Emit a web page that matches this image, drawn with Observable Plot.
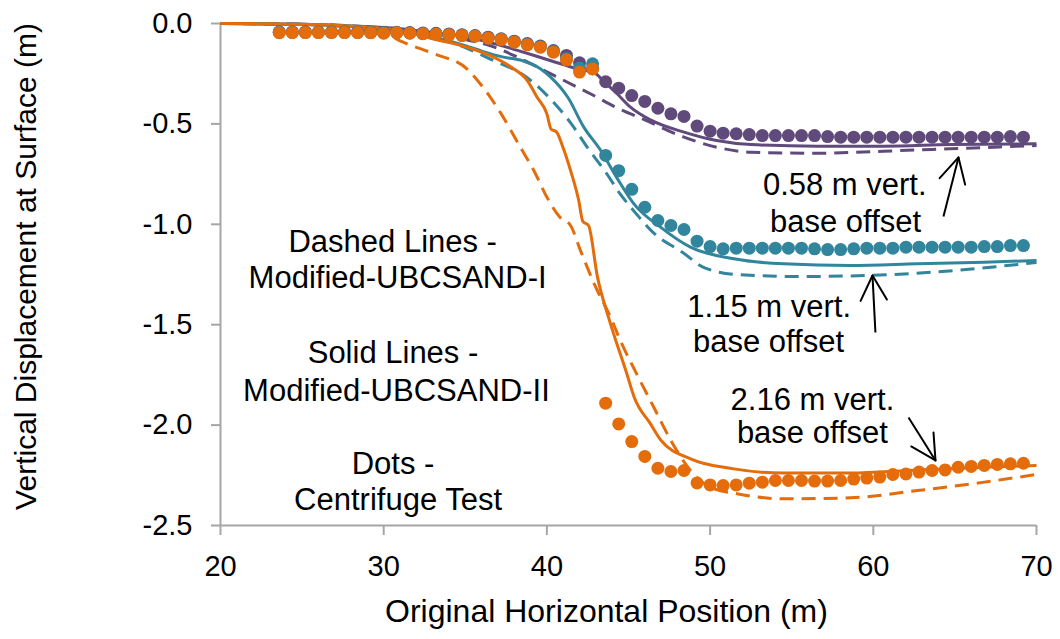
<!DOCTYPE html>
<html>
<head>
<meta charset="utf-8">
<script src="https://cdn.jsdelivr.net/npm/d3@7"></script>
<script src="https://cdn.jsdelivr.net/npm/@observablehq/plot@0.6"></script>
<style>
html, body { margin: 0; padding: 0; background: #ffffff; }
#chart { width: 1060px; height: 639px; }
</style>
</head>
<body>
<div id="chart"></div>
<script>
// ---------- Data ----------
const xTicks = [20, 30, 40, 50, 60, 70];
const yTicks = [0, -0.5, -1.0, -1.5, -2.0, -2.5];

// Centrifuge test dot positions (m)
const dotX = [23.6, 24.4, 25.2, 26.0, 26.8, 27.6, 28.4, 29.2, 30.0, 30.8,
  31.6, 32.4, 33.2, 34.0, 34.8, 35.6, 36.4, 37.2, 38.0, 38.8,
  39.6, 40.4, 41.2, 42.0, 42.8, 43.6, 44.4, 45.2, 46.0, 46.8,
  47.6, 48.4, 49.2, 50.0, 50.8, 51.6, 52.4, 53.2, 54.0, 54.8,
  55.6, 56.4, 57.2, 58.0, 58.8, 59.6, 60.4, 61.2, 62.0, 62.8,
  63.6, 64.4, 65.2, 66.0, 66.8, 67.6, 68.4, 69.2];

const purpleDotY = [-0.042, -0.042, -0.042, -0.042, -0.042, -0.042, -0.042, -0.043, -0.044, -0.044,
  -0.045, -0.047, -0.049, -0.052, -0.056, -0.060, -0.068, -0.076, -0.088, -0.100,
  -0.112, -0.135, -0.159, -0.196, -0.225, -0.290, -0.322, -0.359, -0.388, -0.422,
  -0.450, -0.463, -0.511, -0.536, -0.546, -0.549, -0.553, -0.558, -0.558, -0.558,
  -0.558, -0.558, -0.563, -0.566, -0.566, -0.566, -0.566, -0.566, -0.566, -0.566,
  -0.566, -0.566, -0.566, -0.566, -0.566, -0.566, -0.563, -0.566];

const tealDotY = [-0.044, -0.044, -0.044, -0.044, -0.044, -0.044, -0.044, -0.045, -0.046, -0.045,
  -0.047, -0.050, -0.052, -0.055, -0.059, -0.062, -0.071, -0.078, -0.091, -0.104,
  -0.116, -0.140, -0.175, -0.221, -0.201, -0.657, -0.733, -0.826, -0.915, -0.981,
  -1.006, -1.026, -1.084, -1.111, -1.122, -1.119, -1.119, -1.119, -1.119, -1.119,
  -1.119, -1.122, -1.126, -1.126, -1.122, -1.119, -1.119, -1.119, -1.114, -1.114,
  -1.114, -1.114, -1.114, -1.114, -1.111, -1.111, -1.106, -1.106];

const orangeDotY = [-0.046, -0.045, -0.045, -0.045, -0.045, -0.045, -0.045, -0.046, -0.048, -0.046,
  -0.048, -0.051, -0.053, -0.056, -0.060, -0.063, -0.073, -0.080, -0.093, -0.106,
  -0.118, -0.143, -0.181, -0.242, -0.226, -1.891, -1.994, -2.082, -2.156, -2.215,
  -2.231, -2.226, -2.288, -2.298, -2.301, -2.298, -2.289, -2.284, -2.276, -2.276,
  -2.276, -2.279, -2.279, -2.276, -2.269, -2.264, -2.259, -2.246, -2.243, -2.234,
  -2.226, -2.223, -2.210, -2.206, -2.201, -2.196, -2.193, -2.190];

// Modified-UBCSAND-II (solid) and -I (dashed)
const purpleSolidX = [20, 25, 28, 31, 33, 35.1, 37, 38.2, 40.2, 41.9, 42.9, 43.5, 44.3, 45.1, 46.35, 48.4, 50.4, 52.5, 56.6, 60.6, 64.7, 70];
const purpleSolidY = [0, -0.004, -0.012, -0.026, -0.045, -0.068, -0.105, -0.134, -0.184, -0.226, -0.245, -0.29, -0.35, -0.415, -0.48, -0.541, -0.583, -0.603, -0.611, -0.611, -0.603, -0.599];

const purpleDashX = [20, 25, 28, 31, 33, 35, 36.5, 38, 39.5, 41.2, 42.9, 44.3, 46, 48.4, 50.4, 52.5, 56.6, 60.6, 64.7, 70];
const purpleDashY = [0, -0.004, -0.012, -0.03, -0.05, -0.08, -0.11, -0.16, -0.22, -0.29, -0.36, -0.42, -0.48, -0.566, -0.616, -0.641, -0.646, -0.636, -0.624, -0.608];

const tealSolidX = [20, 25, 28, 31, 33.1, 35, 36.1, 37.2, 38.5, 39.6, 40.2, 41.3, 42.26, 43.28, 44.3, 45.33, 46.96, 48.8, 51.45, 54.5, 58.6, 62.7, 66.8, 70];
const tealSolidY = [0, -0.004, -0.014, -0.035, -0.068, -0.11, -0.14, -0.165, -0.185, -0.225, -0.265, -0.37, -0.516, -0.63, -0.77, -0.898, -1.014, -1.114, -1.172, -1.197, -1.205, -1.197, -1.189, -1.18];

const tealDashX = [20, 25, 28, 31, 33, 34.3, 36.5, 38.8, 40.3, 41.5, 42.5, 43.6, 44.5, 45.5, 46.5, 48.3, 49.6, 51.6, 55.5, 59.6, 63.7, 70];
const tealDashY = [0, -0.004, -0.012, -0.04, -0.07, -0.098, -0.176, -0.27, -0.383, -0.5, -0.62, -0.74, -0.85, -0.95, -1.04, -1.139, -1.214, -1.25, -1.26, -1.255, -1.238, -1.19];

const orangeSolidX = [20, 25, 28, 31, 33, 35.1, 36.5, 37.8, 38.8, 39.4, 40.0, 40.25, 40.6, 41.0, 41.45, 41.95, 42.2, 42.55, 43.1, 43.8, 44.9, 45.35, 46.35, 47.0, 48.8, 51.45, 54.5, 58.6, 62.7, 66.8, 70];
const orangeSolidY = [0, -0.004, -0.014, -0.035, -0.076, -0.118, -0.159, -0.217, -0.284, -0.367, -0.45, -0.525, -0.541, -0.62, -0.732, -0.881, -0.985, -1.006, -1.263, -1.47, -1.745, -1.861, -1.994, -2.077, -2.168, -2.218, -2.239, -2.239, -2.223, -2.21, -2.201];

const orangeDashX = [20, 25, 28, 30, 31.4, 33.1, 35.1, 36.2, 37.2, 38.4, 39.2, 40.0, 40.8, 41.45, 42.06, 42.9, 43.9, 44.5, 45.5, 46.55, 47.6, 48.8, 50.0, 51.65, 54.5, 58.6, 62.7, 66.8, 70];
const orangeDashY = [0, -0.005, -0.02, -0.05, -0.1, -0.151, -0.226, -0.33, -0.45, -0.62, -0.732, -0.865, -0.965, -1.006, -1.131, -1.297, -1.463, -1.579, -1.745, -1.911, -2.077, -2.226, -2.309, -2.342, -2.367, -2.362, -2.326, -2.284, -2.246];

// Annotations
const noteText = ["Dashed Lines -", "Modified-UBCSAND-I", "Solid Lines -", "Modified-UBCSAND-II", "Dots -", "Centrifuge Test",
  "0.58 m vert.", "base offset", "1.15 m vert.", "base offset", "2.16 m vert.", "base offset"];
const noteX = [30.55, 30.85, 30.57, 30.78, 30.57, 30.88, 58.25, 58.3, 53.62, 53.58, 56.27, 56.27];
const noteY = [-1.091, -1.270, -1.643, -1.833, -2.196, -2.375, -0.807, -0.991, -1.414, -1.589, -1.877, -2.042];

// Arrows (tail -> tip)
const arrowX1 = [64.30, 60.13, 62.16];
const arrowY1 = [-0.961, -1.539, -1.962];
const arrowX2 = [65.22, 59.95, 63.81];
const arrowY2 = [-0.667, -1.255, -2.176];

// ---------- Layout / styles ----------
const W = 1060, H = 639, mL = 220, mR = 24, mT = 23, mB = 114;
const PURPLE = "#604A7B", TEAL = "#31859C", ORANGE = "#E46C0A", AXIS = "#a6a6a6";
const FONT = "'Liberation Sans', Arial, Helvetica, sans-serif";

const zip = (xs, ys) => xs.map((x, i) => ({x, y: ys[i]}));
const notes = noteText.map((t, i) => ({t, x: noteX[i], y: noteY[i]}));
const arrows = arrowX1.map((x1, i) => ({x1, y1: arrowY1[i], x2: arrowX2[i], y2: arrowY2[i]}));

// arrowhead arms (open V) computed from tail/tip in pixel space
const kx = (W - mL - mR) / (70 - 20);
const ky = (H - mT - mB) / 2.5;
const armLen = 28, armAng = 28 * Math.PI / 180;
const arms = [];
arrows.forEach(a => {
  const dxp = (a.x2 - a.x1) * kx, dyp = -(a.y2 - a.y1) * ky;
  const ang = Math.atan2(dyp, dxp);
  for (const s of [-1, 1]) {
    const b = ang + Math.PI + s * armAng;
    arms.push({x1: a.x2, y1: a.y2, x2: a.x2 + Math.cos(b) * armLen / kx, y2: a.y2 - Math.sin(b) * armLen / ky});
  }
});

const lineOpts = (stroke, dashed) => ({x: "x", y: "y", stroke, strokeWidth: 3, curve: "monotone-x",
  strokeDasharray: dashed ? "14,8" : null, strokeLinecap: "butt"});

const dots = (ys, fill) => Plot.dot(zip(dotX, ys), {x: "x", y: "y", r: 6.5, fill, stroke: "none"});

const plot = Plot.plot({
  width: W, height: H,
  marginLeft: mL, marginRight: mR, marginTop: mT, marginBottom: mB,
  style: {fontFamily: FONT, background: "#ffffff", color: "#000"},
  x: {domain: [20, 70]},
  y: {domain: [-2.5, 0]},
  marks: [
    Plot.axisX({ticks: xTicks, tickSize: 10, tickPadding: 20, fontSize: 29, stroke: AXIS, strokeWidth: 2,
      fill: "#000", tickFormat: d => String(d), label: null}),
    Plot.axisY({ticks: yTicks, tickSize: 9, tickPadding: 19, fontSize: 29, stroke: AXIS, strokeWidth: 2,
      fill: "#000", tickFormat: d => d.toFixed(1), label: null}),
    Plot.ruleX([20], {stroke: AXIS, strokeWidth: 2}),
    Plot.ruleY([-2.5], {stroke: AXIS, strokeWidth: 2}),

    Plot.line(zip(purpleDashX, purpleDashY), lineOpts(PURPLE, true)),
    Plot.line(zip(purpleSolidX, purpleSolidY), lineOpts(PURPLE, false)),
    Plot.line(zip(tealDashX, tealDashY), lineOpts(TEAL, true)),
    Plot.line(zip(tealSolidX, tealSolidY), lineOpts(TEAL, false)),
    Plot.line(zip(orangeDashX, orangeDashY), lineOpts(ORANGE, true)),
    Plot.line(zip(orangeSolidX, orangeSolidY), lineOpts(ORANGE, false)),

    dots(purpleDotY, PURPLE),
    dots(tealDotY, TEAL),
    dots(orangeDotY, ORANGE),

    Plot.text(notes, {x: "x", y: "y", text: "t", fontSize: 31, fill: "#000", textAnchor: "middle"}),
    Plot.link(arrows, {x1: "x1", y1: "y1", x2: "x2", y2: "y2", stroke: "#000", strokeWidth: 2}),
    Plot.link(arms, {x1: "x1", y1: "y1", x2: "x2", y2: "y2", stroke: "#000", strokeWidth: 2, strokeLinecap: "round"}),

    Plot.text(["Original Horizontal Position (m)"], {x: [43.65], frameAnchor: "bottom", dy: 96, fontSize: 32, fill: "#000", textAnchor: "middle"}),
    Plot.text(["Vertical Displacement at Surface (m)"], {y: [-1.21], frameAnchor: "left", dx: -194, rotate: -90, fontSize: 30, fill: "#000", textAnchor: "middle"})
  ]
});

document.getElementById("chart").appendChild(plot);
</script>
</body>
</html>
